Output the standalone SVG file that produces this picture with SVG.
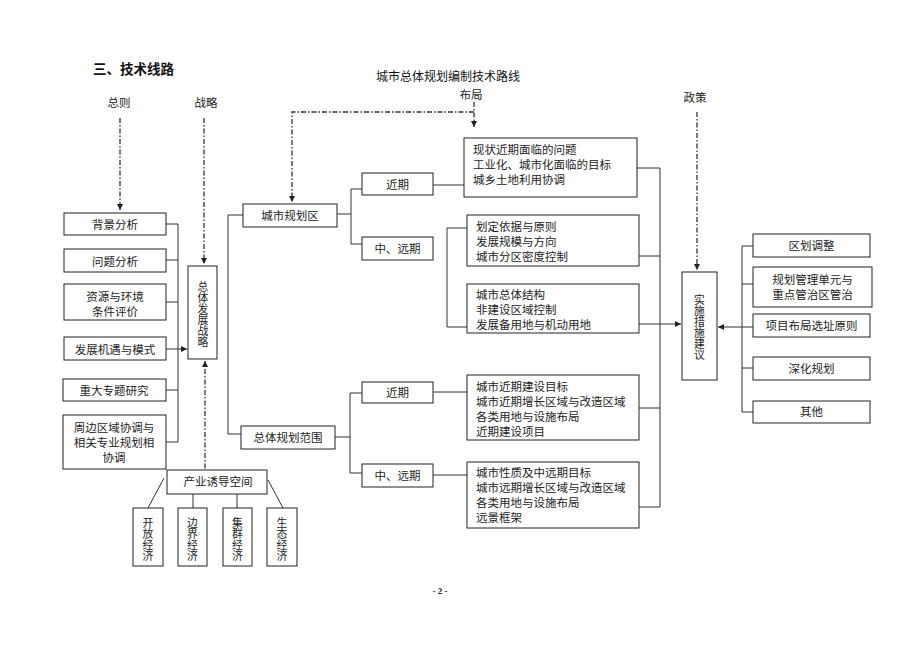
<svg xmlns="http://www.w3.org/2000/svg" width="920" height="651" viewBox="0 0 920 651">
<style>
.box{fill:#fff;stroke:#222;stroke-width:1}
.t{font-family:"Noto Sans CJK SC","Noto Sans",sans-serif;font-size:11.5px;fill:#222}
.v{font-family:"Noto Sans CJK SC","Noto Sans",sans-serif;font-size:10.8px;fill:#222;text-anchor:middle;writing-mode:vertical-rl;text-orientation:upright;letter-spacing:0.2px}
.c{text-anchor:middle}
.ln{stroke:#333;stroke-width:1;fill:none}
.dd{stroke:#333;stroke-width:1.3;fill:none;stroke-dasharray:5 2 1.5 2}
</style>
<defs>
<marker id="a" viewBox="0 0 8 8" refX="8" refY="4" markerWidth="6" markerHeight="6" markerUnits="userSpaceOnUse" orient="auto">
<path d="M0,0 L8,4 L0,8 z" fill="#222"/>
</marker>
</defs>
<rect width="920" height="651" fill="#fff"/>

<text x="93" y="74" style="font-family:'Noto Sans CJK SC',sans-serif;font-size:13.5px;font-weight:bold;fill:#111">三、技术线路</text>
<text x="448" y="81" class="c" style="font-family:'Noto Sans CJK SC',sans-serif;font-size:12px;fill:#111">城市总体规划编制技术路线</text>
<text x="119" y="107" class="t c">总则</text>
<text x="206" y="107" class="t c">战略</text>
<text x="471" y="99" class="t c">布局</text>
<text x="695" y="102" class="t c">政策</text>
<text x="440" y="594" class="c" style="font-family:'Liberation Serif',serif;font-size:9px;font-weight:bold;fill:#222">- 2 -</text>

<g id="connectors">
<path class="dd" d="M120,118 V210" marker-end="url(#a)"/>
<path class="dd" d="M204,118 V264" marker-end="url(#a)"/>
<path class="dd" d="M474,102 V127" marker-end="url(#a)"/>
<path class="dd" d="M474,112 H292 V202" marker-end="url(#a)"/>
<path class="dd" d="M697,112 V270" marker-end="url(#a)"/>
<path class="dd" d="M205,479 V361" marker-end="url(#a)"/>

<path class="ln" d="M178,224 V442 M166,224 H178 M166,260 H178 M166,302 H178 M166,390 H178 M166,442 H178"/>
<path class="ln" d="M166,349 H187" marker-end="url(#a)"/>

<path class="ln" d="M164,478 L148,508 M193,494 V508 M237,494 V508 M268,480 L283,508"/>

<path class="ln" d="M243,215 H228 V434 H241"/>
<path class="ln" d="M337,214 H351 M362,189 H351 V244 H362"/>
<path class="ln" d="M335,437 H350 M362,393 H350 V473 H362"/>
<path class="ln" d="M433,185 H464"/>
<path class="ln" d="M467,228 H447 V327 H467"/>
<path class="ln" d="M433,392 H467 M433,475 H467"/>
<path class="ln" d="M637,168 H660 M639,256 H660 M639,408 H660 M639,507 H660 M660,168 V507"/>
<path class="ln" d="M639,324 H681" marker-end="url(#a)"/>

<path class="ln" d="M742,246 V412 M742,246 H753 M742,284 H753 M742,368 H753 M742,412 H753"/>
<path class="ln" d="M753,327 H718" marker-end="url(#a)"/>
</g>

<g id="n-beijing"><rect class="box" x="64" y="213" width="102" height="22"/><text class="t c" x="115" y="229">背景分析</text></g>
<g id="n-wenti"><rect class="box" x="64" y="249" width="102" height="23"/><text class="t c" x="115" y="266">问题分析</text></g>
<g id="n-ziyuan"><rect class="box" x="64" y="284" width="102" height="36"/><text class="t c" x="115" y="301">资源与环境</text><text class="t c" x="115" y="316">条件评价</text></g>
<g id="n-jiyu"><rect class="box" x="64" y="337" width="102" height="23"/><text class="t c" x="115" y="354">发展机遇与模式</text></g>
<g id="n-zhuanti"><rect class="box" x="63" y="379" width="103" height="22"/><text class="t c" x="114" y="395">重大专题研究</text></g>
<g id="n-zhoubian"><rect class="box" x="63" y="415" width="103" height="54"/><text class="t c" x="114" y="432">周边区域协调与</text><text class="t c" x="114" y="447">相关专业规划相</text><text class="t c" x="114" y="462">协调</text></g>

<g id="n-zhanlue"><rect class="box" x="188" y="266" width="29" height="93"/>
<text class="v" x="203" y="314.5">总体发展战略</text></g>

<g id="n-chanye"><rect class="box" x="167" y="470" width="100" height="24"/><text class="t c" x="218" y="486">产业诱导空间</text></g>
<g id="n-kaifang"><rect class="box" x="133" y="508" width="30" height="58"/><text class="v" x="148" y="539.5">开放经济</text></g>
<g id="n-bianjie"><rect class="box" x="178" y="508" width="29" height="58"/><text class="v" x="192.5" y="539.5">边界经济</text></g>
<g id="n-jiqun"><rect class="box" x="223" y="508" width="29" height="58"/><text class="v" x="237.5" y="539.5">集群经济</text></g>
<g id="n-shengtai"><rect class="box" x="267" y="508" width="30" height="58"/><text class="v" x="282" y="539.5">生态经济</text></g>

<g id="n-guihuaqu"><rect class="box" x="243" y="204" width="94" height="23"/><text class="t c" x="290" y="220">城市规划区</text></g>
<g id="n-fanwei"><rect class="box" x="241" y="426" width="94" height="23"/><text class="t c" x="288" y="442">总体规划范围</text></g>
<g id="n-jinqi1"><rect class="box" x="362" y="173" width="71" height="22"/><text class="t c" x="397.5" y="189">近期</text></g>
<g id="n-yuanqi1"><rect class="box" x="362" y="237" width="71" height="23"/><text class="t c" x="397.5" y="253">中、远期</text></g>
<g id="n-jinqi2"><rect class="box" x="362" y="382" width="71" height="21"/><text class="t c" x="397.5" y="397">近期</text></g>
<g id="n-yuanqi2"><rect class="box" x="362" y="464" width="71" height="23"/><text class="t c" x="397.5" y="480">中、远期</text></g>

<g id="n-xianzhuang"><rect class="box" x="464" y="138" width="173" height="59"/><text class="t" x="473" y="154">现状近期面临的问题</text><text class="t" x="473" y="169">工业化、城市化面临的目标</text><text class="t" x="473" y="184">城乡土地利用协调</text></g>
<g id="n-huading"><rect class="box" x="467" y="215" width="172" height="51"/><text class="t" x="476" y="231">划定依据与原则</text><text class="t" x="476" y="246">发展规模与方向</text><text class="t" x="476" y="261">城市分区密度控制</text></g>
<g id="n-jiegou"><rect class="box" x="467" y="284" width="172" height="49"/><text class="t" x="476" y="299">城市总体结构</text><text class="t" x="476" y="314">非建设区域控制</text><text class="t" x="476" y="329">发展备用地与机动用地</text></g>
<g id="n-jianshe"><rect class="box" x="467" y="375" width="172" height="65"/><text class="t" x="476" y="391">城市近期建设目标</text><text class="t" x="476" y="406">城市近期增长区域与改造区域</text><text class="t" x="476" y="421">各类用地与设施布局</text><text class="t" x="476" y="436">近期建设项目</text></g>
<g id="n-xingzhi"><rect class="box" x="467" y="462" width="172" height="66"/><text class="t" x="476" y="477">城市性质及中远期目标</text><text class="t" x="476" y="492">城市远期增长区域与改造区域</text><text class="t" x="476" y="507">各类用地与设施布局</text><text class="t" x="476" y="522">远景框架</text></g>

<g id="n-shishi"><rect class="box" x="682" y="272" width="35" height="108"/>
<text class="v" x="699.5" y="327">实施措施建议</text></g>

<g id="n-quhua"><rect class="box" x="753" y="234" width="117" height="23"/><text class="t c" x="811.5" y="250">区划调整</text></g>
<g id="n-danyuan"><rect class="box" x="753" y="267" width="119" height="40"/><text class="t c" x="812.5" y="283.5">规划管理单元与</text><text class="t c" x="812.5" y="298.5">重点管治区管治</text></g>
<g id="n-xuanzhi"><rect class="box" x="753" y="314" width="117" height="23"/><text class="t c" x="811.5" y="330">项目布局选址原则</text></g>
<g id="n-shenhua"><rect class="box" x="753" y="357" width="117" height="23"/><text class="t c" x="811.5" y="373">深化规划</text></g>
<g id="n-qita"><rect class="box" x="753" y="401" width="117" height="22"/><text class="t c" x="811.5" y="416">其他</text></g>
</svg>
